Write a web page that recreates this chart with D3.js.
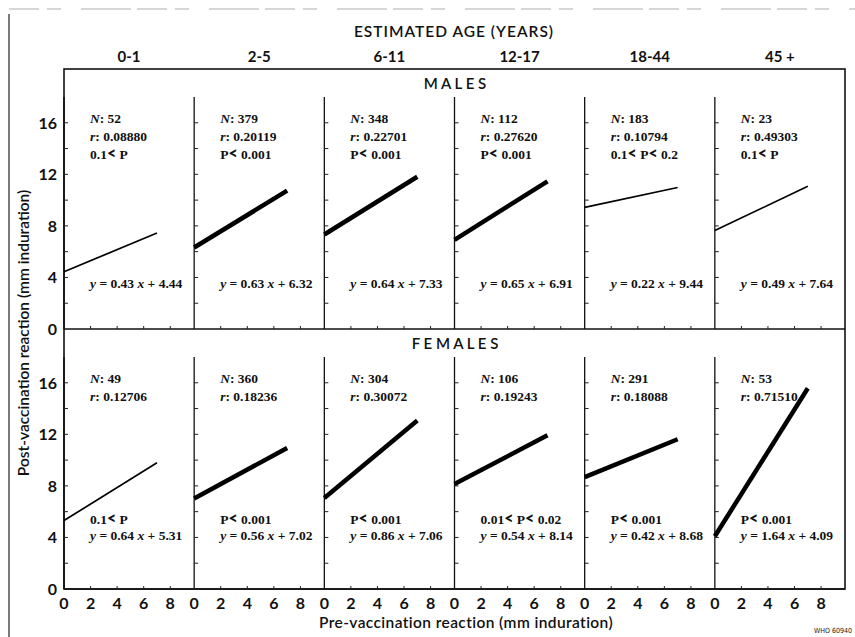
<!DOCTYPE html>
<html>
<head>
<meta charset="utf-8">
<script src="https://cdn.jsdelivr.net/npm/d3@7"></script>
<style>
  body { margin: 0; background: #fff; }
  svg { display: block; }
  .sans { font-family: Lato, "Open Sans", sans-serif; font-weight: 700; fill: #111; }
  .stat { font-family: "Liberation Serif", "DejaVu Serif", serif; font-weight: 700; font-size: 13.5px; fill: #111; }
</style>
</head>
<body>
<script>
// age groups (columns) and sexes (rows)
const ageGroups = ['0-1', '2-5', '6-11', '12-17', '18-44', '45 +'];
const sexes = ['M A L E S', 'F E M A L E S'];

// regression results, one entry per age group
const maleN = [52, 379, 348, 112, 183, 23];
const maleR = ['0.08880', '0.20119', '0.22701', '0.27620', '0.10794', '0.49303'];
const maleP = ['0.1<P', 'P<0.001', 'P<0.001', 'P<0.001', '0.1<P<0.2', '0.1<P'];
const maleSlope = [0.43, 0.63, 0.64, 0.65, 0.22, 0.49];
const maleIntercept = [4.44, 6.32, 7.33, 6.91, 9.44, 7.64];
const maleSignificant = [false, true, true, true, false, false];

const femaleN = [49, 360, 304, 106, 291, 53];
const femaleR = ['0.12706', '0.18236', '0.30072', '0.19243', '0.18088', '0.71510'];
const femaleP = ['0.1<P', 'P<0.001', 'P<0.001', '0.01<P<0.02', 'P<0.001', 'P<0.001'];
const femaleSlope = [0.64, 0.56, 0.86, 0.54, 0.42, 1.64];
const femaleIntercept = [5.31, 7.02, 7.06, 8.14, 8.68, 4.09];
const femaleSignificant = [false, true, true, true, true, true];

const xTicks = [0, 2, 4, 6, 8];
const yTicks = [0, 4, 8, 12, 16];
const yMinor = [2, 6, 10, 14];
const xRange = [0, 7];   // regression lines drawn over 0..7 mm

const W = 855, H = 637;
const left = 64, right = 845, boxTop = 69;
const panelW = (right - left) / ageGroups.length;

const svg = d3.select('body').append('svg')
  .attr('width', W).attr('height', H);

// outer frame of the figure (scan edge)
svg.append('line').attr('x1', 9).attr('x2', W).attr('y1', 9).attr('y2', 9)
  .attr('stroke', '#999').attr('stroke-width', 0.8).attr('stroke-dasharray', '30,8,14,20,50,6');
svg.append('line').attr('x1', 9).attr('x2', 9).attr('y1', 14).attr('y2', H)
  .attr('stroke', '#222').attr('stroke-width', 1.2);

svg.append('text').attr('class', 'sans')
  .attr('x', 454).attr('y', 37).attr('text-anchor', 'middle')
  .style('font-size', '15.5px').style('font-weight', 600).style('letter-spacing', '1px')
  .text('ESTIMATED  AGE  (YEARS)');

const band = d3.scaleBand().domain(ageGroups).range([left, right]);

svg.selectAll('.age').data(ageGroups).enter().append('text')
  .attr('class', 'sans')
  .attr('x', d => band(d) + panelW / 2).attr('y', 62)
  .attr('text-anchor', 'middle').style('font-size', '15px')
  .text(d => d);

const x = d3.scaleLinear().domain([0, 9.8]).range([0, panelW]);

const rows = [
  { label: sexes[0], bottom: 329, N: maleN, r: maleR, P: maleP, a: maleSlope, b: maleIntercept, sig: maleSignificant, female: false },
  { label: sexes[1], bottom: 589, N: femaleN, r: femaleR, P: femaleP, a: femaleSlope, b: femaleIntercept, sig: femaleSignificant, female: true }
];

// main box
svg.append('rect').attr('x', left).attr('y', boxTop)
  .attr('width', right - left).attr('height', 589 - boxTop)
  .attr('fill', 'none').attr('stroke', '#111').attr('stroke-width', 1.6);

function pText(sel, p) {
  // render "<" as a heavier sans glyph
  const parts = p.split('<');
  parts.forEach((s, i) => {
    if (i > 0) sel.append('tspan').attr('class', 'sans').style('font-size', '16px').style('font-weight', 900).text('<');
    if (s) sel.append('tspan').text((i > 0 && s[0] !== ' ' ? ' ' : '') + s);
  });
}

rows.forEach(row => {
  const y = d3.scaleLinear().domain([0, 18]).range([row.bottom, row.bottom - 232]);

  svg.append('line').attr('x1', left).attr('x2', right)
    .attr('y1', row.bottom).attr('y2', row.bottom)
    .attr('stroke', '#111').attr('stroke-width', 1.6);

  svg.append('text').attr('class', 'sans')
    .attr('x', 455).attr('y', row.bottom - 240).attr('text-anchor', 'middle')
    .style('font-size', '15px').style('font-weight', 600)
    .text(row.label);

  // y tick labels
  svg.selectAll(null).data(yTicks).enter().append('text')
    .attr('class', 'sans')
    .attr('x', 57).attr('y', d => y(d) + 6)
    .attr('text-anchor', 'end').style('font-size', '16px')
    .text(d => d);

  ageGroups.forEach((g, i) => {
    const g0 = svg.append('g').attr('transform', `translate(${band(g)},0)`);

    // panel divider with tick marks
    g0.append('line').attr('x1', 0).attr('x2', 0)
      .attr('y1', y(18)).attr('y2', row.bottom)
      .attr('stroke', '#111').attr('stroke-width', i === 0 ? 1.6 : 1.3);
    g0.selectAll(null).data(yTicks.concat(yMinor).filter(d => d > 0)).enter().append('line')
      .attr('x1', 0).attr('x2', 4).attr('y1', d => y(d)).attr('y2', d => y(d))
      .attr('stroke', '#222').attr('stroke-width', 1);
    g0.selectAll(null).data(xTicks.filter(d => d > 0)).enter().append('line')
      .attr('x1', d => x(d)).attr('x2', d => x(d))
      .attr('y1', row.bottom).attr('y2', row.bottom - 3)
      .attr('stroke', '#222').attr('stroke-width', 1);

    // regression line
    g0.append('line')
      .attr('x1', x(xRange[0])).attr('y1', y(row.a[i] * xRange[0] + row.b[i]))
      .attr('x2', x(xRange[1])).attr('y2', y(row.a[i] * xRange[1] + row.b[i]))
      .attr('stroke', '#000')
      .attr('stroke-width', row.sig[i] ? 4.5 : 1.7);

    const tx = 26;
    const nt = g0.append('text').attr('class', 'stat').attr('x', tx).attr('y', y(16.4) + 5);
    nt.append('tspan').style('font-style', 'italic').text('N');
    nt.append('tspan').text(': ' + row.N[i]);

    const rt = g0.append('text').attr('class', 'stat').attr('x', tx).attr('y', y(15) + 5);
    rt.append('tspan').style('font-style', 'italic').text('r');
    rt.append('tspan').text(': ' + row.r[i]);

    const pt = g0.append('text').attr('class', 'stat').attr('x', tx)
      .attr('y', row.female ? y(5.4) + 5 : y(13.6) + 5);
    pText(pt, row.P[i]);

    const et = g0.append('text').attr('class', 'stat').attr('x', tx)
      .attr('y', row.female ? y(4.2) + 5 : y(3.6) + 5);
    et.append('tspan').style('font-style', 'italic').text('y');
    et.append('tspan').text(' = ' + row.a[i].toFixed(2) + ' ');
    et.append('tspan').style('font-style', 'italic').text('x');
    et.append('tspan').text('   + ' + row.b[i].toFixed(2));
  });
});

// x tick labels under the bottom row
ageGroups.forEach(g => {
  svg.append('g').selectAll('text').data(xTicks).enter().append('text')
    .attr('class', 'sans')
    .attr('x', d => band(g) + x(d)).attr('y', 609)
    .attr('text-anchor', 'middle').style('font-size', '16px')
    .text(d => d);
});

svg.append('text').attr('class', 'sans')
  .attr('x', 466).attr('y', 628).attr('text-anchor', 'middle')
  .style('font-size', '15.5px').style('font-weight', 600).style('letter-spacing', '0.4px')
  .text('Pre-vaccination reaction (mm induration)');

svg.append('text').attr('class', 'sans')
  .attr('transform', 'translate(29,333) rotate(-90)')
  .attr('text-anchor', 'middle')
  .style('font-size', '15.5px').style('font-weight', 600)
  .text('Post-vaccination reaction (mm induration)');

svg.append('text').attr('x', 852).attr('y', 633).attr('text-anchor', 'end')
  .style('font-family', 'DejaVu Sans Condensed, DejaVu Sans, sans-serif')
  .style('font-size', '7px').attr('fill', '#222')
  .text('WHO  60940');
</script>
</body>
</html>
